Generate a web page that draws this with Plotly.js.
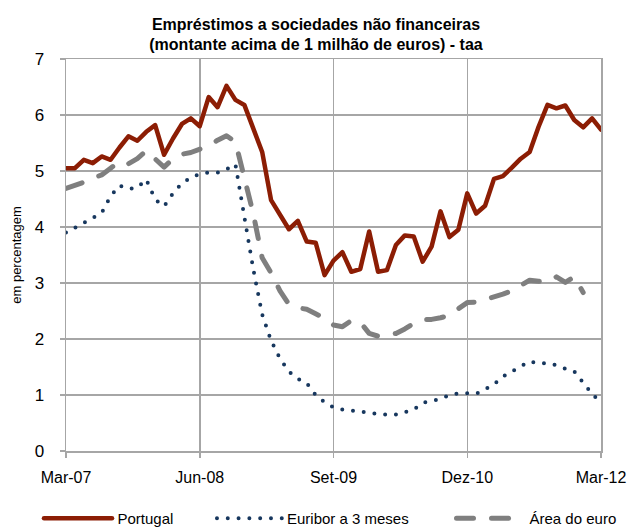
<!DOCTYPE html>
<html>
<head>
<meta charset="utf-8">
<script src="https://cdn.plot.ly/plotly-3.0.1.min.js"></script>
<style>html,body{margin:0;padding:0;background:#fff;}#chart{width:632px;height:528px;}</style>
</head>
<body>
<div id="chart"></div>
<script>
// Monthly data, Mar-07 .. Mar-12
const portugal = [5.05,5.05,5.20,5.14,5.26,5.20,5.42,5.62,5.54,5.70,5.82,5.29,5.58,5.84,5.94,5.80,6.32,6.14,6.52,6.27,6.18,5.76,5.34,4.48,4.21,3.96,4.11,3.74,3.72,3.14,3.40,3.55,3.20,3.25,3.92,3.20,3.23,3.68,3.85,3.83,3.38,3.65,4.28,3.82,3.95,4.60,4.24,4.38,4.86,4.91,5.06,5.22,5.34,5.79,6.18,6.12,6.17,5.91,5.78,5.94,5.74];
const euribor = [3.90,3.99,4.08,4.16,4.25,4.55,4.74,4.68,4.70,4.85,4.49,4.37,4.60,4.78,4.88,4.95,4.97,4.97,5.03,5.12,4.20,3.25,2.44,1.97,1.65,1.42,1.29,1.21,1.00,0.87,0.78,0.74,0.72,0.71,0.68,0.66,0.65,0.65,0.70,0.74,0.86,0.89,0.93,1.00,1.03,1.03,1.02,1.10,1.19,1.33,1.43,1.51,1.60,1.56,1.57,1.53,1.47,1.42,1.22,1.02,0.86];
const areaEuro = [4.69,4.74,4.80,4.87,4.93,5.05,5.17,5.13,5.22,5.36,5.20,5.07,5.22,5.30,5.33,5.38,5.45,5.55,5.63,5.52,4.85,4.24,3.45,3.18,2.86,2.62,2.56,2.53,2.45,2.37,2.25,2.22,2.33,2.30,2.10,2.05,2.08,2.10,2.18,2.28,2.35,2.35,2.38,2.42,2.54,2.65,2.66,2.70,2.76,2.80,2.86,2.95,3.05,3.03,3.02,3.11,3.01,3.11,2.83];
const tickPositions = [0, 15, 30, 45, 60];
const tickLabels = ['Mar-07', 'Jun-08', 'Set-09', 'Dez-10', 'Mar-12'];
const seriesNames = ['Portugal', 'Euribor a 3 meses', 'Área do euro'];

const idx = arr => arr.map((_, i) => i);
const FONT = '"Liberation Sans", Arial, sans-serif';
const GRID = '#a6a6a6';

const traces = [
  {x: idx(areaEuro), y: areaEuro, name: seriesNames[2], type: 'scatter', mode: 'lines',
   line: {color: '#7f7f7f', width: 5, dash: '17px,18px'}, legend: 'legend3'},
  {x: idx(euribor), y: euribor, name: seriesNames[1], type: 'scatter', mode: 'lines',
   line: {color: '#17375e', width: 4, dash: '0px,10.8px'}, legend: 'legend2'},
  {x: idx(portugal), y: portugal, name: seriesNames[0], type: 'scatter', mode: 'lines',
   line: {color: '#8c1d04', width: 4.5}, legend: 'legend'}
];

const legendBase = {orientation: 'h', xref: 'container', yref: 'container',
  yanchor: 'middle', y: 0.018, xanchor: 'left',
  font: {family: FONT, size: 15, color: '#000'}, bgcolor: 'rgba(0,0,0,0)', borderwidth: 0};

const layout = {
  width: 632, height: 528,
  margin: {l: 66, r: 31, t: 59, b: 77, autoexpand: false},
  paper_bgcolor: '#fff', plot_bgcolor: '#fff',
  font: {family: FONT, color: '#000'},
  title: {text: 'Empréstimos a sociedades não financeiras<br>(montante acima de 1 milhão de euros) - taa',
    font: {family: FONT, size: 16, color: '#000', weight: 'bold'},
    x: 0.5, xref: 'container', xanchor: 'center', y: 0.944, yref: 'container', yanchor: 'top'},
  xaxis: {range: [0, 60], tickvals: tickPositions, ticktext: tickLabels,
    showgrid: true, gridcolor: GRID, gridwidth: 1.5,
    showline: true, linecolor: GRID, linewidth: 1.5, mirror: true,
    ticks: 'outside', ticklen: 5, tickcolor: GRID, tickwidth: 1.5,
    tickfont: {family: FONT, size: 16, color: '#000'}, ticklabelstandoff: 6,
    zeroline: false, fixedrange: true},
  yaxis: {range: [0, 7], dtick: 1, tick0: 0,
    showgrid: true, gridcolor: GRID, gridwidth: 1.5,
    showline: true, linecolor: GRID, linewidth: 1.5, mirror: true,
    ticks: 'outside', ticklen: 5, tickcolor: GRID, tickwidth: 1.5,
    tickfont: {family: FONT, size: 17, color: '#000'}, ticklabelstandoff: 12,
    zeroline: false, fixedrange: true,
    title: {text: 'em percentagem', font: {family: FONT, size: 13, color: '#000'}, standoff: 10}},
  showlegend: true,
  legend: Object.assign({}, legendBase, {x: 0.0625, itemwidth: 68}),
  legend2: Object.assign({}, legendBase, {x: 0.3354, itemwidth: 65}),
  legend3: Object.assign({}, legendBase, {x: 0.7144, itemwidth: 68})
};

// legend sample geometry: [offset of line start before text, line length, optional dash]
const legendSample = {
  'Portugal': [73.5, 68, null],
  'Euribor a 3 meses': [71, 65, null],
  'Área do euro': [74, 60, '21px,21px']
};

Plotly.newPlot('chart', traces, layout, {displayModeBar: false, staticPlot: true}).then(() => {
  document.querySelectorAll('path.js-line').forEach(p => {
    p.style.strokeLinecap = 'round';
    p.style.strokeLinejoin = 'round';
  });
  document.querySelectorAll('g.traces').forEach(g => {
    const t = g.querySelector('text.legendtext');
    const p = g.querySelector('path.js-line');
    if (!t || !p) return;
    const spec = legendSample[t.textContent];
    if (!spec) return;
    const tx = parseFloat(t.getAttribute('x')) || 0;
    p.setAttribute('d', 'M' + (tx - spec[0]) + ',0h' + spec[1]);
    if (spec[2]) p.style.strokeDasharray = spec[2];
  });
});
</script>
</body>
</html>
